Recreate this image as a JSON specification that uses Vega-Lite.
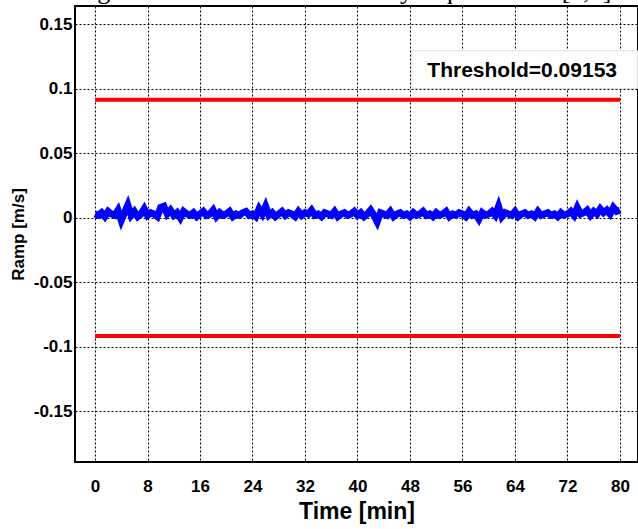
{
  "$schema": "https://vega.github.io/schema/vega-lite/v6.json",
  "width": 563,
  "height": 456,
  "autosize": {"type": "none"},
  "padding": {"left": 75, "top": 6, "right": 0, "bottom": 67},
  "background": "white",
  "config": {
    "view": {"stroke": "black", "strokeWidth": 2},
    "axis": {
      "grid": true,
      "gridColor": "black",
      "gridDash": [2, 2],
      "gridWidth": 1,
      "gridOpacity": 1,
      "ticks": false,
      "domain": false,
      "labelFont": "Liberation Sans",
      "labelFontWeight": "bold",
      "labelFontSize": 17,
      "labelColor": "black",
      "titleFont": "Liberation Sans",
      "titleFontWeight": "bold",
      "titleColor": "black"
    }
  },
  "datasets": {
    "ramp": [
      {"t":0,"v":0.003},{"t":0.5,"v":0.002},{"t":1,"v":0.004},{"t":1.5,"v":0.001},{"t":2,"v":0.005},{"t":2.5,"v":0.003},{"t":3,"v":0.002},{"t":3.5,"v":0.006},{"t":4,"v":-0.002},{"t":4.5,"v":0.004},
      {"t":5,"v":0.010},{"t":5.5,"v":0.002},{"t":6,"v":0.005},{"t":6.5,"v":0.001},{"t":7,"v":0.003},{"t":7.5,"v":0.007},{"t":8,"v":0.002},{"t":8.5,"v":0.004},{"t":9,"v":0.003},{"t":9.5,"v":0.001},
      {"t":10,"v":0.008},{"t":10.5,"v":0.009},{"t":11,"v":0.003},{"t":11.5,"v":0.006},{"t":12,"v":0.002},{"t":12.5,"v":0.004},{"t":13,"v":0.000},{"t":13.5,"v":0.005},{"t":14,"v":0.003},{"t":14.5,"v":0.002},
      {"t":15,"v":0.004},{"t":15.5,"v":0.001},{"t":16,"v":0.003},{"t":16.5,"v":0.005},{"t":17,"v":0.002},{"t":17.5,"v":0.003},{"t":18,"v":0.006},{"t":18.5,"v":0.001},{"t":19,"v":0.004},{"t":19.5,"v":0.002},
      {"t":20,"v":0.003},{"t":20.5,"v":0.005},{"t":21,"v":0.001},{"t":21.5,"v":0.003},{"t":22,"v":0.002},{"t":22.5,"v":0.004},{"t":23,"v":0.005},{"t":23.5,"v":0.002},{"t":24,"v":0.003},{"t":24.5,"v":0.001},
      {"t":25,"v":0.007},{"t":25.5,"v":0.003},{"t":26,"v":0.009},{"t":26.5,"v":0.002},{"t":27,"v":0.004},{"t":27.5,"v":0.001},{"t":28,"v":0.003},{"t":28.5,"v":0.005},{"t":29,"v":0.002},{"t":29.5,"v":0.004},
      {"t":30,"v":0.003},{"t":30.5,"v":0.001},{"t":31,"v":0.005},{"t":31.5,"v":0.002},{"t":32,"v":0.004},{"t":32.5,"v":0.003},{"t":33,"v":0.006},{"t":33.5,"v":0.002},{"t":34,"v":0.003},{"t":34.5,"v":0.001},
      {"t":35,"v":0.004},{"t":35.5,"v":0.003},{"t":36,"v":0.002},{"t":36.5,"v":0.005},{"t":37,"v":0.001},{"t":37.5,"v":0.003},{"t":38,"v":0.004},{"t":38.5,"v":0.002},{"t":39,"v":0.003},{"t":39.5,"v":0.005},
      {"t":40,"v":0.002},{"t":40.5,"v":0.004},{"t":41,"v":0.001},{"t":41.5,"v":0.003},{"t":42,"v":0.006},{"t":42.5,"v":0.002},{"t":43,"v":-0.003},{"t":43.5,"v":0.004},{"t":44,"v":0.003},{"t":44.5,"v":0.002},
      {"t":45,"v":0.005},{"t":45.5,"v":0.001},{"t":46,"v":0.003},{"t":46.5,"v":0.004},{"t":47,"v":0.002},{"t":47.5,"v":0.003},{"t":48,"v":0.001},{"t":48.5,"v":0.004},{"t":49,"v":0.002},{"t":49.5,"v":0.003},
      {"t":50,"v":0.005},{"t":50.5,"v":0.002},{"t":51,"v":0.003},{"t":51.5,"v":0.001},{"t":52,"v":0.004},{"t":52.5,"v":0.002},{"t":53,"v":0.003},{"t":53.5,"v":0.005},{"t":54,"v":0.001},{"t":54.5,"v":0.003},
      {"t":55,"v":0.002},{"t":55.5,"v":0.004},{"t":56,"v":0.003},{"t":56.5,"v":0.001},{"t":57,"v":0.005},{"t":57.5,"v":0.002},{"t":58,"v":0.003},{"t":58.5,"v":-0.001},{"t":59,"v":0.004},{"t":59.5,"v":0.002},
      {"t":60,"v":0.003},{"t":60.5,"v":0.005},{"t":61,"v":0.002},{"t":61.5,"v":0.009},{"t":62,"v":0.001},{"t":62.5,"v":0.004},{"t":63,"v":0.003},{"t":63.5,"v":0.002},{"t":64,"v":0.005},{"t":64.5,"v":0.001},
      {"t":65,"v":0.003},{"t":65.5,"v":0.004},{"t":66,"v":0.002},{"t":66.5,"v":0.003},{"t":67,"v":0.001},{"t":67.5,"v":0.005},{"t":68,"v":0.002},{"t":68.5,"v":0.003},{"t":69,"v":0.004},{"t":69.5,"v":0.002},
      {"t":70,"v":0.003},{"t":70.5,"v":0.001},{"t":71,"v":0.004},{"t":71.5,"v":0.002},{"t":72,"v":0.003},{"t":72.5,"v":0.005},{"t":73,"v":0.002},{"t":73.5,"v":0.008},{"t":74,"v":0.003},{"t":74.5,"v":0.004},
      {"t":75,"v":0.006},{"t":75.5,"v":0.002},{"t":76,"v":0.005},{"t":76.5,"v":0.003},{"t":77,"v":0.007},{"t":77.5,"v":0.004},{"t":78,"v":0.006},{"t":78.5,"v":0.003},{"t":79,"v":0.008},{"t":79.5,"v":0.005},
      {"t":80,"v":0.006}
    ],
    "thresholds": [
      {"t0": 0, "t1": 80, "v": 0.09153},
      {"t0": 0, "t1": 80, "v": -0.09153}
    ],
    "box": [
      {"x0": 48.3, "x1": 82.7, "y0": 0.1003, "y1": 0.1296, "tx": 65.1, "ty": 0.1142, "label": "Threshold=0.09153"}
    ],
    "caption": [
      {"tx": 79.7, "ty": 0.1696, "label": "low enough to meet the LGF continuity requirements [1,2]."}
    ]
  },
  "layer": [
    {
      "data": {"name": "ramp"},
      "mark": {"type": "line", "color": "#0000FF", "strokeWidth": 7, "clip": true},
      "encoding": {
        "x": {
          "field": "t", "type": "quantitative",
          "scale": {"domain": [-3.05, 82.75], "nice": false, "zero": false},
          "axis": {"values": [0, 8, 16, 24, 32, 40, 48, 56, 64, 72, 80], "title": "Time [min]", "titleFontSize": 23, "labelPadding": 16, "titlePadding": 6}
        },
        "y": {
          "field": "v", "type": "quantitative",
          "scale": {"domain": [-0.1892, 0.1642], "nice": false, "zero": false},
          "axis": {"values": [-0.15, -0.1, -0.05, 0, 0.05, 0.1, 0.15], "title": "Ramp [m/s]", "titleFontSize": 17, "labelPadding": 3, "titlePadding": 6, "labelExpr": "replace(format(datum.value, '.2~f'), '\u2212', '-')"}
        }
      }
    },
    {
      "data": {"name": "thresholds"},
      "mark": {"type": "rule", "color": "#FF0000", "strokeWidth": 4},
      "encoding": {
        "x": {"field": "t0", "type": "quantitative"},
        "x2": {"field": "t1"},
        "y": {"field": "v", "type": "quantitative"}
      }
    },
    {
      "data": {"name": "box"},
      "mark": {"type": "rect", "fill": "white", "stroke": "#e0e0e0", "strokeWidth": 1, "clip": true},
      "encoding": {
        "x": {"field": "x0", "type": "quantitative"},
        "x2": {"field": "x1"},
        "y": {"field": "y0", "type": "quantitative"},
        "y2": {"field": "y1"}
      }
    },
    {
      "data": {"name": "box"},
      "mark": {"type": "text", "font": "Liberation Sans", "fontWeight": "bold", "fontSize": 21, "color": "black", "align": "center", "baseline": "middle"},
      "encoding": {
        "x": {"field": "tx", "type": "quantitative"},
        "y": {"field": "ty", "type": "quantitative"},
        "text": {"field": "label"}
      }
    },
    {
      "data": {"name": "caption"},
      "mark": {"type": "text", "font": "Liberation Serif", "fontSize": 26, "color": "black", "align": "right", "baseline": "alphabetic"},
      "encoding": {
        "x": {"field": "tx", "type": "quantitative"},
        "y": {"field": "ty", "type": "quantitative"},
        "text": {"field": "label"}
      }
    }
  ]
}
